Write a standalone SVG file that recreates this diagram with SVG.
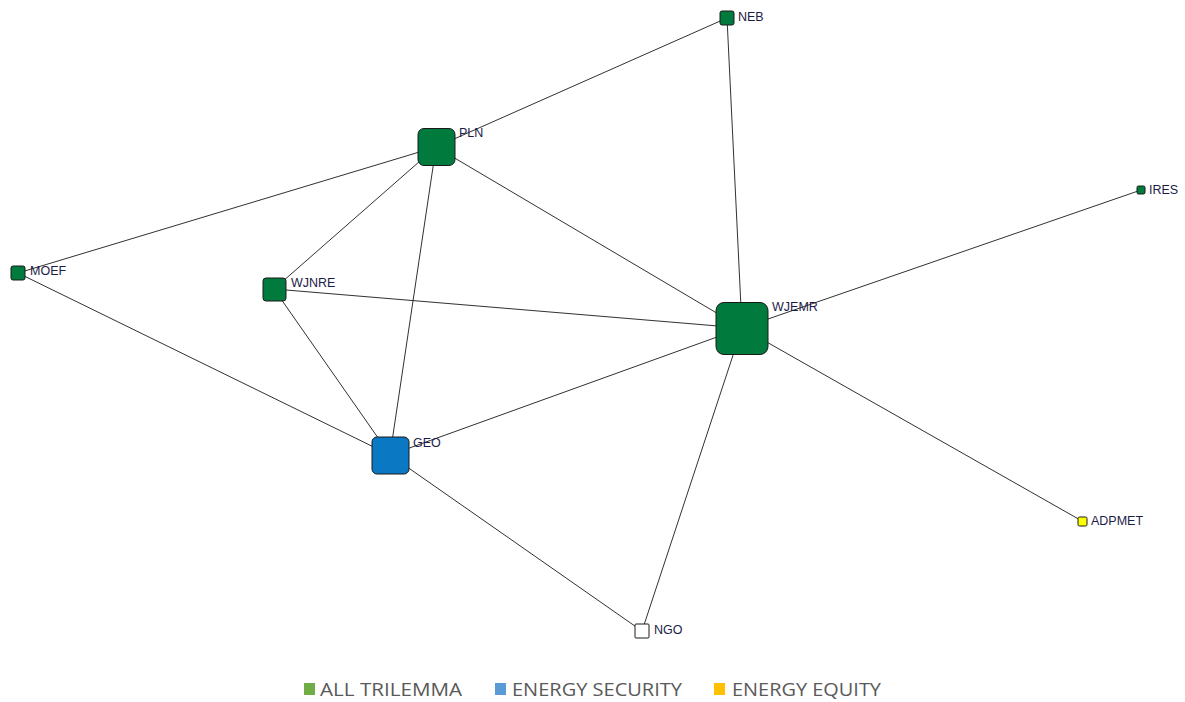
<svg xmlns="http://www.w3.org/2000/svg" width="1185" height="702" viewBox="0 0 1185 702">
<style>
.e{stroke:#1a1a1a;stroke-width:0.9;fill:none}
.n{stroke:#1a1a1a;stroke-width:1}
.g{fill:#007a3d}
.b{fill:#0a78c2}
.y{fill:#ffff00}
.w{fill:#ffffff}
.l{font-family:"Liberation Sans",Arial,sans-serif;font-size:12.5px;fill:#1c1c48}
.lg{font-family:"Open Sans","Liberation Sans",sans-serif;font-size:18.5px;fill:#595959}
</style>
<rect width="1185" height="702" fill="#ffffff"/>
<g id="connectors">
<line class="e" x1="436" y1="147" x2="727" y2="18"/>
<line class="e" x1="436" y1="147" x2="18" y2="273"/>
<line class="e" x1="436" y1="147" x2="274" y2="289"/>
<line class="e" x1="436" y1="147" x2="390" y2="455"/>
<line class="e" x1="436" y1="147" x2="742" y2="328"/>
<line class="e" x1="727" y1="18" x2="742" y2="328"/>
<line class="e" x1="742" y1="328" x2="1141" y2="190"/>
<line class="e" x1="742" y1="328" x2="274" y2="289"/>
<line class="e" x1="742" y1="328" x2="390" y2="455"/>
<line class="e" x1="742" y1="328" x2="1082" y2="521"/>
<line class="e" x1="742" y1="328" x2="642" y2="631"/>
<line class="e" x1="18" y1="273" x2="390" y2="455"/>
<line class="e" x1="274" y1="289" x2="390" y2="455"/>
<line class="e" x1="390" y1="455" x2="642" y2="631"/>
</g>
<g id="node-PLN"><rect class="n g" x="418" y="128.5" width="37" height="37" rx="6"/><text class="l" x="459" y="137">PLN</text></g>
<g id="node-WJEMR"><rect class="n g" x="716" y="302.5" width="52" height="52" rx="8"/><text class="l" x="772" y="311">WJEMR</text></g>
<g id="node-GEO"><rect class="n b" x="372" y="437" width="37" height="37" rx="5"/><text class="l" x="413" y="447">GEO</text></g>
<g id="node-MOEF"><rect class="n g" x="11" y="266" width="14" height="14" rx="2"/><text class="l" x="30" y="275">MOEF</text></g>
<g id="node-WJNRE"><rect class="n g" x="263" y="278" width="23" height="23" rx="3"/><text class="l" x="291" y="287">WJNRE</text></g>
<g id="node-NEB"><rect class="n g" x="720" y="11" width="14" height="14" rx="2"/><text class="l" x="738" y="21">NEB</text></g>
<g id="node-IRES"><rect class="n g" x="1137" y="186" width="8" height="8" rx="1.5"/><text class="l" x="1149" y="194">IRES</text></g>
<g id="node-ADPMET"><rect class="n y" x="1078" y="517" width="9" height="9" rx="1.5"/><text class="l" x="1091" y="525">ADPMET</text></g>
<g id="node-NGO"><rect class="n w" x="635" y="624" width="14" height="14" rx="1"/><text class="l" x="654" y="634">NGO</text></g>
<g id="legend">
<rect x="304" y="683" width="11" height="12" fill="#70ad47"/><text class="lg" x="320" y="696" textLength="142" lengthAdjust="spacingAndGlyphs">ALL TRILEMMA</text>
<rect x="495" y="683" width="11" height="12" fill="#5b9bd5"/><text class="lg" x="512" y="696" textLength="170" lengthAdjust="spacingAndGlyphs">ENERGY SECURITY</text>
<rect x="714" y="683" width="11" height="12" fill="#ffc000"/><text class="lg" x="732" y="696" textLength="149" lengthAdjust="spacingAndGlyphs">ENERGY EQUITY</text>
</g>
</svg>
